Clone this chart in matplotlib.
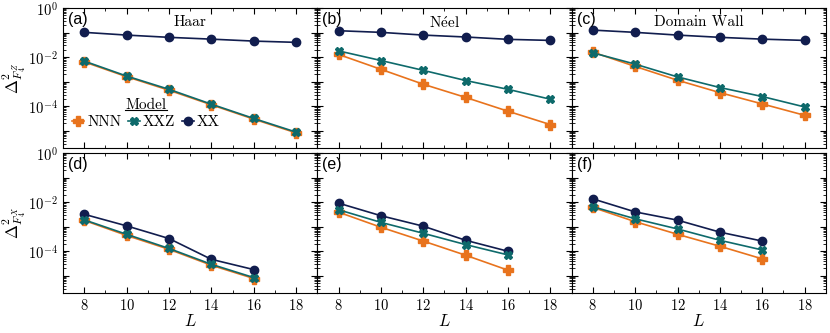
import numpy as np
import matplotlib
matplotlib.use('Agg')
import matplotlib.pyplot as plt
from matplotlib.ticker import LogLocator, FuncFormatter, MultipleLocator, NullFormatter

plt.rcParams['font.family'] = 'serif'
plt.rcParams['font.serif'] = ['cmr10', 'DejaVu Serif']
plt.rcParams['mathtext.fontset'] = 'cm'
plt.rcParams['axes.formatter.use_mathtext'] = True
plt.rcParams['axes.unicode_minus'] = False

L_top = [8, 10, 12, 14, 16, 18]
L_bot = [8, 10, 12, 14, 16]

# top row: Delta^2 F4^Z
haar_z_nnn = [0.0064, 0.0016, 0.00045, 1.15e-4, 3.0e-5, 8.3e-6]
haar_z_xxz = [0.0069, 0.00170, 0.00049, 1.22e-4, 3.2e-5, 8.9e-6]
haar_z_xx = [0.102, 0.079, 0.064, 0.054, 0.045, 0.040]
neel_z_nnn = [0.0129, 0.0032, 7.9e-4, 2.3e-4, 6.3e-5, 1.8e-5]
neel_z_xxz = [0.018, 0.0073, 0.0029, 0.00112, 4.9e-4, 1.94e-4]
neel_z_xx = [0.119, 0.102, 0.079, 0.066, 0.053, 0.048]
dw_z_nnn = [0.016, 0.0042, 0.00115, 3.6e-4, 1.25e-4, 4.3e-5]
dw_z_xxz = [0.015, 0.0052, 0.00157, 5.8e-4, 2.5e-4, 9.4e-5]
dw_z_xx = [0.126, 0.102, 0.079, 0.064, 0.054, 0.048]

# bottom row: Delta^2 F4^X
haar_x_nnn = [0.0018, 0.00044, 1.2e-4, 2.7e-5, 7.8e-6]
haar_x_xxz = [0.0019, 0.00049, 1.3e-4, 2.95e-5, 8.5e-6]
haar_x_xx = [0.0032, 0.00108, 3.3e-4, 4.7e-5, 1.8e-5]
neel_x_nnn = [0.0039, 9.5e-4, 2.6e-4, 6.9e-5, 1.7e-5]
neel_x_xxz = [0.0049, 0.0015, 5.4e-4, 1.87e-4, 7.1e-5]
neel_x_xx = [0.0091, 0.0028, 0.00105, 2.8e-4, 1.0e-4]
dw_x_nnn = [0.0061, 0.0016, 4.9e-4, 1.6e-4, 4.9e-5]
dw_x_xxz = [0.0065, 0.0021, 8.1e-4, 2.8e-4, 1.13e-4]
dw_x_xx = [0.0136, 0.0040, 0.00185, 6.0e-4, 2.6e-4]

titles = ['Haar', r'$\mathrm{N\acute{e}el}$', 'Domain Wall']
letters = ['(a)', '(b)', '(c)', '(d)', '(e)', '(f)']
models = ['NNN', 'XXZ', 'XX']
colors = ['#e8731d', '#0e6a6b', '#111d4e']
markers = ['P', 'X', 'o']

top = [[haar_z_nnn, haar_z_xxz, haar_z_xx],
       [neel_z_nnn, neel_z_xxz, neel_z_xx],
       [dw_z_nnn, dw_z_xxz, dw_z_xx]]
bot = [[haar_x_nnn, haar_x_xxz, haar_x_xx],
       [neel_x_nnn, neel_x_xxz, neel_x_xx],
       [dw_x_nnn, dw_x_xxz, dw_x_xx]]

fig, axes = plt.subplots(2, 3, figsize=(8.3, 3.33), dpi=100, sharex=True, sharey=True)
fig.subplots_adjust(left=0.076, right=0.995, top=0.976, bottom=0.12, wspace=0.0, hspace=0.035)

def even_dec(v, pos):
    e = int(round(np.log10(v)))
    if e % 2 == 0:
        return r'$10^{%d}$' % e
    return ''

for r, rows in enumerate([top, bot]):
    Ls = L_top if r == 0 else L_bot
    for c in range(3):
        ax = axes[r, c]
        for k in range(3):
            ax.plot(Ls, rows[c][k], color=colors[k], marker=markers[k], ms=6.5 if k == 0 else 6,
                    lw=1.2, mec=colors[k], label=models[k], zorder=3 + (k == 1))
        ax.set_yscale('log')
        ax.set_ylim(2e-6, 1)
        ax.set_xlim(7, 19)
        ax.xaxis.set_major_locator(MultipleLocator(2))
        ax.xaxis.set_minor_locator(MultipleLocator(1))
        ax.yaxis.set_major_locator(LogLocator(base=10, numticks=20))
        ax.yaxis.set_minor_locator(LogLocator(base=10, subs=np.arange(2, 10), numticks=20))
        ax.yaxis.set_major_formatter(FuncFormatter(even_dec))
        ax.yaxis.set_minor_formatter(NullFormatter())
        ax.tick_params(which='both', direction='in', top=True, right=True, labelsize=10.5)
        ax.tick_params(which='major', length=4, width=0.8)
        ax.tick_params(which='minor', length=2.2, width=0.6)
        ax.text(0.02, 0.97, letters[r * 3 + c], transform=ax.transAxes, ha='left', va='top',
                fontsize=11.5, family='Liberation Sans')
        if r == 0:
            ax.text(0.5, 0.95, titles[c], transform=ax.transAxes, ha='center', va='top', fontsize=11)
        else:
            ax.set_xlabel(r'$L$', fontsize=12, labelpad=0)
        ax.xaxis.set_tick_params(labelbottom=(r == 1))

axes[0, 0].set_ylabel(r'$\Delta^2_{F_4^Z}$', fontsize=12, labelpad=0)
axes[1, 0].set_ylabel(r'$\Delta^2_{F_4^X}$', fontsize=12, labelpad=0)

leg = axes[0, 0].legend(title='Model', ncol=3, loc='lower left', bbox_to_anchor=(0.0, 0.07),
                        frameon=False, fontsize=11, title_fontsize=11, handlelength=0.8,
                        handletextpad=0.2, columnspacing=0.4, borderaxespad=0.2,
                        labelspacing=0.2, alignment='center')

# underline the legend title
fig.canvas.draw()
tb = leg.get_title().get_window_extent()
inv = fig.transFigure.inverted()
(x0, y0) = inv.transform((tb.x0, tb.y0))
(x1, y1) = inv.transform((tb.x1, tb.y0))
fig.add_artist(plt.Line2D([x0, x1], [y0 + 0.006, y0 + 0.006], color='black', lw=0.8,
                          transform=fig.transFigure))

fig.savefig('out.png', dpi=100)
